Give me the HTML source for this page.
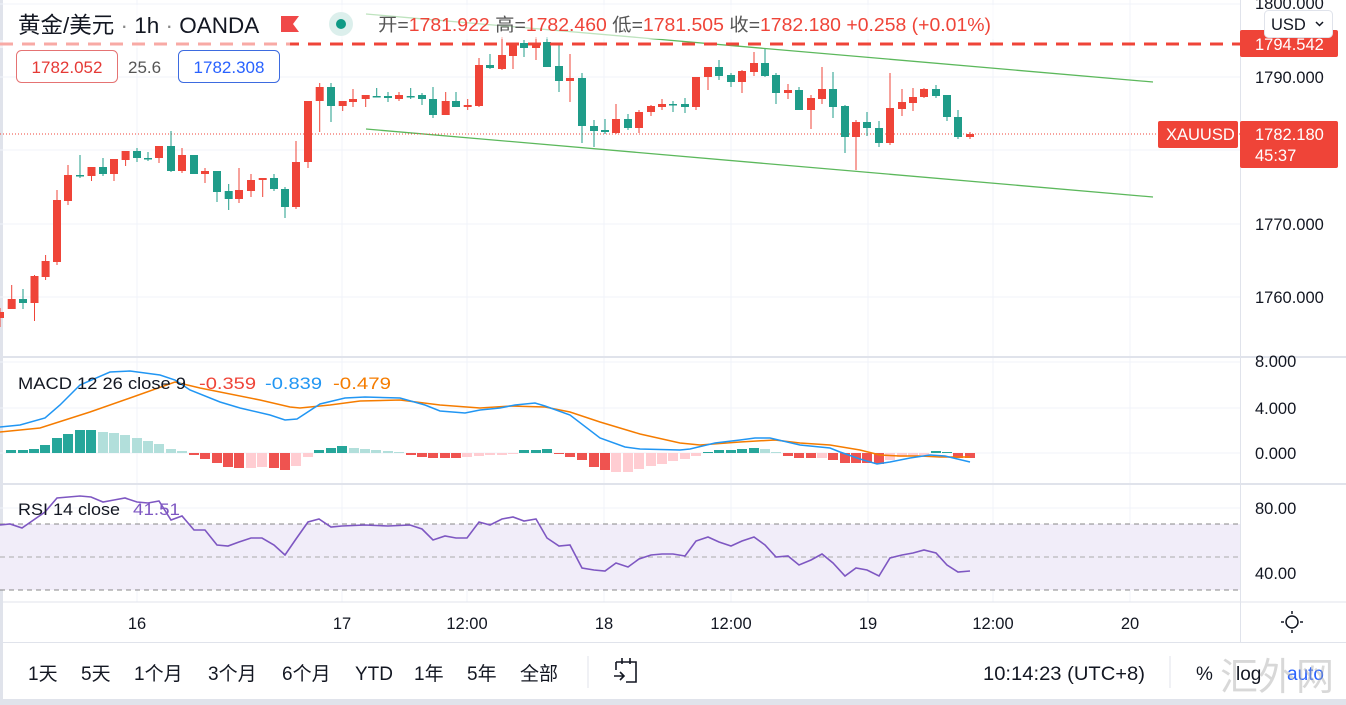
<!DOCTYPE html>
<html><head><meta charset="utf-8">
<style>
html,body{margin:0;padding:0;background:#fff;}
body{width:1346px;height:705px;overflow:hidden;position:relative;font-family:"Liberation Sans","Noto Sans CJK SC",sans-serif;}
svg{position:absolute;left:0;top:0;}
text{font-family:"Liberation Sans","Noto Sans CJK SC",sans-serif;}
</style></head>
<body>
<svg id="s" width="1346" height="705" viewBox="0 0 1346 705" xmlns="http://www.w3.org/2000/svg">
<rect x="0" y="0" width="1346" height="705" fill="#fff"/>
<rect x="0" y="0" width="3" height="705" fill="#e0e3eb"/>
<rect x="0" y="699" width="1346" height="6" fill="#e0e3eb"/>
<g stroke="#f0f3fa" stroke-width="1">
<line x1="137" y1="0" x2="137" y2="602"/><line x1="342" y1="0" x2="342" y2="602"/><line x1="467" y1="0" x2="467" y2="602"/><line x1="604" y1="0" x2="604" y2="602"/><line x1="731" y1="0" x2="731" y2="602"/><line x1="868" y1="0" x2="868" y2="602"/><line x1="993" y1="0" x2="993" y2="602"/><line x1="1130" y1="0" x2="1130" y2="602"/>
<line x1="0" y1="4" x2="1240" y2="4"/><line x1="0" y1="77" x2="1240" y2="77"/><line x1="0" y1="150" x2="1240" y2="150"/><line x1="0" y1="224" x2="1240" y2="224"/><line x1="0" y1="297" x2="1240" y2="297"/>
<line x1="0" y1="362" x2="1240" y2="362"/><line x1="0" y1="408" x2="1240" y2="408"/><line x1="0" y1="453" x2="1240" y2="453"/>
<line x1="0" y1="508" x2="1240" y2="508"/><line x1="0" y1="573" x2="1240" y2="573"/>
</g>
<rect x="0" y="524" width="1240" height="66" fill="#f1edf9"/>
<g stroke="#888" stroke-width="1" stroke-dasharray="5,4"><line x1="0" y1="524" x2="1240" y2="524"/><line x1="0" y1="590" x2="1240" y2="590"/></g>
<line x1="0" y1="557" x2="1240" y2="557" stroke="#aaa" stroke-width="1" stroke-dasharray="5,4"/>
<rect x="0" y="356" width="1346" height="2" fill="#e0e3eb"/>
<rect x="0" y="483" width="1346" height="2" fill="#e0e3eb"/>
<line x1="0" y1="602" x2="1346" y2="602" stroke="#e0e3eb"/>
<line x1="0" y1="642.5" x2="1346" y2="642.5" stroke="#e0e3eb"/>
<line x1="1240.5" y1="0" x2="1240.5" y2="642" stroke="#e0e3eb"/>
<line x1="366" y1="14" x2="1153" y2="82" stroke="#5cb85c" stroke-width="1.3"/>
<line x1="366" y1="129" x2="1153" y2="197" stroke="#5cb85c" stroke-width="1.3"/>
<line x1="0" y1="134" x2="1240" y2="134" stroke="#ef4438" stroke-width="1" stroke-dasharray="1,2"/>
<g id="cand"></g>
<line x1="0" y1="44" x2="1240" y2="44" stroke="#ef4438" stroke-width="3" stroke-dasharray="13,9"/>
<rect x="0" y="40" width="290" height="8" fill="#fff" opacity="0.55"/>
<g id="hist"></g>
<polyline fill="none" stroke="#f57c00" stroke-width="1.5" points="0,432 40,428 90,412 130,398 175,382 200,388 260,400 290,407 300,408 330,405 360,401 400,400 440,405 480,408 510,406 545,407 570,412 600,422 640,434 680,443 700,445 740,442 775,440 800,443 830,445 860,450 880,455 900,456 920,456 940,457 970,457"/>
<polyline fill="none" stroke="#2196f3" stroke-width="1.5" points="0,427 20,425 45,418 60,405 80,385 110,372 130,371 160,375 175,380 190,390 220,402 240,408 270,415 285,420 297,419 320,404 345,398 365,397 400,398 425,405 440,411 465,413 480,410 500,408 515,405 535,403 545,406 570,415 600,438 625,447 640,449 680,450 690,449 715,443 740,440 755,438 770,438 800,445 820,447 830,448 840,452 860,459 877,464 890,462 910,458 930,455 945,456 970,462"/>
<polyline fill="none" stroke="#7e57c2" stroke-width="1.6" points="0,525 10,524 22,528 45,512 57,498 80,496 91,497 103,502 114,500 125,498 137,502 148,503 159,501 171,520 182,516 194,530 205,530 217,545 228,546 239,542 251,538 262,538 274,545 285,555 296,539 308,522 319,519 331,527 342,526 365,525 388,526 410,525 422,529 433,540 445,536 456,538 467,538 479,522 490,525 502,519 513,517 524,521 536,519 547,538 559,546 570,545 582,568 594,570 605,571 616,563 628,567 639,559 651,555 662,554 673,554 685,556 696,541 708,537 719,542 731,546 742,541 754,537 765,545 776,557 788,556 799,565 811,560 822,554 833,563 845,576 856,568 867,570 879,576 890,558 902,555 913,553 924,550 936,553 947,565 958,572 970,571"/>
<rect x="4" y="5" width="1000" height="34" fill="#fff" opacity="0.6"/>
<text x="18" y="33" font-size="22.5" fill="#131722">黄金/美元 <tspan fill="#888">·</tspan> 1h <tspan fill="#888">·</tspan> OANDA</text>
<path d="M281 16 H299 L293 24 L299 32 H281 Z" fill="#f04848"/>
<circle cx="341" cy="24" r="12" fill="#dcefec"/><circle cx="341" cy="24" r="5" fill="#0f9a85"/>
<text x="378" y="31" font-size="18" fill="#555" textLength="613" lengthAdjust="spacingAndGlyphs">开=<tspan fill="#ef4438">1781.922</tspan> 高=<tspan fill="#ef4438">1782.460</tspan> 低=<tspan fill="#ef4438">1781.505</tspan> 收=<tspan fill="#ef4438">1782.180</tspan> <tspan fill="#ef4438">+0.258 (+0.01%)</tspan></text>
<rect x="16.5" y="50.5" width="101" height="32" rx="5" fill="#fff" stroke="#e57373"/>
<text x="67" y="73" font-size="17" fill="#e53935" text-anchor="middle">1782.052</text>
<text x="128" y="73" font-size="17" fill="#555">25.6</text>
<rect x="178.5" y="50.5" width="101" height="32" rx="5" fill="#fff" stroke="#3d6be0"/>
<text x="229" y="73" font-size="17" fill="#2962ff" text-anchor="middle">1782.308</text>
<g font-size="16.5" fill="#131722">
<text x="1255" y="9">1800.000</text>
<text x="1255" y="83">1790.000</text>
<text x="1255" y="230">1770.000</text>
<text x="1255" y="303">1760.000</text>
<text x="1255" y="367">8.000</text>
<text x="1255" y="414">4.000</text>
<text x="1255" y="459">0.000</text>
<text x="1255" y="514">80.00</text>
<text x="1255" y="579">40.00</text>
</g>
<rect x="1240" y="30" width="98" height="27" rx="2" fill="#ef4438"/>
<text x="1255" y="50" font-size="16.5" fill="#fff">1794.542</text>
<rect x="1264.5" y="10.5" width="68" height="27" rx="4" fill="#fff" stroke="#e0e3eb"/>
<text x="1271" y="30" font-size="16.5" fill="#131722">USD</text>
<path d="M1316 22 l3.5 3.5 l3.5 -3.5" fill="none" stroke="#131722" stroke-width="1.5"/>
<rect x="1158" y="121" width="80" height="27" rx="2" fill="#ef4438"/>
<text x="1166" y="140" font-size="16.5" fill="#fff">XAUUSD</text>
<rect x="1240" y="121" width="98" height="47" rx="2" fill="#ef4438"/>
<text x="1255" y="140" font-size="16.5" fill="#fff">1782.180</text>
<text x="1255" y="161" font-size="16.5" fill="#fff">45:37</text>
<g font-size="17">
<text x="18" y="389" fill="#131722" textLength="168" lengthAdjust="spacingAndGlyphs">MACD 12 26 close 9</text>
<text x="199" y="389" fill="#ef4438" textLength="57" lengthAdjust="spacingAndGlyphs">-0.359</text>
<text x="265" y="389" fill="#2196f3" textLength="57" lengthAdjust="spacingAndGlyphs">-0.839</text>
<text x="333" y="389" fill="#f57c00" textLength="58" lengthAdjust="spacingAndGlyphs">-0.479</text>
<text x="18" y="515" fill="#131722" textLength="102" lengthAdjust="spacingAndGlyphs">RSI 14 close</text>
<text x="133" y="515" fill="#7e57c2" textLength="47" lengthAdjust="spacingAndGlyphs">41.51</text>
</g>
<g font-size="16.5" fill="#131722" text-anchor="middle">
<text x="137" y="629">16</text><text x="342" y="629">17</text><text x="467" y="629">12:00</text><text x="604" y="629">18</text><text x="731" y="629">12:00</text><text x="868" y="629">19</text><text x="993" y="629">12:00</text><text x="1130" y="629">20</text>
</g>
<circle cx="1292" cy="622" r="6" fill="none" stroke="#131722" stroke-width="1.5"/>
<g stroke="#131722" stroke-width="1.5"><line x1="1292" y1="611" x2="1292" y2="614"/><line x1="1292" y1="630" x2="1292" y2="633"/><line x1="1281" y1="622" x2="1284" y2="622"/><line x1="1300" y1="622" x2="1303" y2="622"/></g>
<g font-size="19" fill="#131722">
<text x="28" y="680">1天</text><text x="81" y="680">5天</text><text x="134" y="680">1个月</text><text x="208" y="680">3个月</text><text x="282" y="680">6个月</text><text x="355" y="680">YTD</text><text x="414" y="680">1年</text><text x="467" y="680">5年</text><text x="520" y="680">全部</text>
<text x="983" y="680" textLength="162" lengthAdjust="spacingAndGlyphs">10:14:23 (UTC+8)</text>
<text x="1196" y="680">%</text><text x="1236" y="680">log</text><text x="1287" y="680" fill="#2962ff">auto</text>
</g>
<line x1="588" y1="656" x2="588" y2="688" stroke="#e0e3eb"/>
<line x1="1170" y1="656" x2="1170" y2="688" stroke="#e0e3eb"/>
<path d="M616 662 H636 V682 H626 M616 662 V670 M622 658 V664 M630 658 V664 M614 676 H624 M620 672 L624 676 L620 680" fill="none" stroke="#131722" stroke-width="1.6"/>
<text x="1220" y="690" font-size="38" fill="#aaa" opacity="0.45" font-family="'Noto Serif CJK SC',serif">汇外网</text>
</svg>
<script>
var C=[[0,312,318,308,327,'r'],[11.7,299,309,285,309,'r'],[23,299,303,289,309,'g'],[34.5,276,303,275,321,'r'],[45.6,261,277,255,280,'r'],[57,200,262,190,265,'r'],[68,175,201,165,205,'r'],[80,175,176,155,178,'g'],[91.5,167,176,167,181,'r'],[103,167,174,158,176,'g'],[114,159,174,159,181,'r'],[125.6,151,160,151,166,'r'],[137,151,158,148,162,'g'],[148,158,159,152,161,'g'],[159,146,158,146,163,'r'],[171,146,171,131,172,'g'],[182,155,171,148,173,'r'],[194,155,174,155,174,'g'],[205,171,174,168,183,'r'],[217,171,192,171,202,'g'],[228.7,191,199,184,210,'g'],[239,190,199,168,203,'r'],[251,180,191,174,197,'r'],[262.7,178,180,178,197,'r'],[274,178,189,174,191,'g'],[285,189,207,187,218,'g'],[296,162,207,141,209,'r'],[308,101,162,101,168,'r'],[319.7,87,101,83,132,'r'],[331,87,106,83,122,'g'],[342.7,101,106,101,111,'r'],[353,99,102,89,107,'r'],[365.7,95,99,95,107,'r'],[376.7,96,97,88,97,'g'],[388,96,98,92,102,'g'],[399,95,99,92,101,'r'],[410.7,96,97,88,99,'g'],[422,95,99,93,105,'g'],[433,99,115,87,118,'g'],[445.7,101,115,92,115,'r'],[456,101,107,92,107,'g'],[467.7,105,107,99,110,'r'],[479,65,106,58,107,'r'],[490,65,68,54,69,'g'],[502,55,69,37,70,'r'],[513,43,56,43,69,'r'],[524,43,48,40,57,'g'],[536,43,48,37,60,'r'],[547,42,67,37,67,'g'],[559,66,81,43,92,'g'],[570,78,81,54,102,'r'],[582,78,126,73,143,'g'],[594,126,131,120,147,'g'],[605,130,132,119,134,'g'],[616,119,133,104,134,'r'],[628,119,128,114,130,'g'],[639,112,128,110,133,'r'],[651,106,112,105,116,'r'],[662,104,107,99,110,'r'],[673,104,105,101,112,'g'],[685,104,107,98,113,'g'],[696,77,107,77,110,'r'],[708,67,77,67,90,'r'],[719,67,76,60,80,'g'],[731,75,82,73,87,'g'],[742,71,82,70,93,'r'],[754,63,72,52,76,'r'],[765,63,76,49,77,'g'],[776,75,93,73,104,'g'],[788,90,93,84,99,'r'],[799,90,110,87,110,'g'],[811,98,110,95,129,'r'],[822,89,99,67,104,'r'],[833,89,107,72,118,'g'],[845,106,137,105,153,'g'],[856,122,137,120,170,'r'],[867,122,128,112,136,'g'],[879,128,143,121,147,'g'],[890,108,143,73,145,'r'],[902,102,109,89,116,'r'],[913,97,103,88,111,'r'],[924,89,97,88,98,'r'],[936,89,96,85,98,'g'],[947,95,117,95,121,'g'],[958,117,137,110,139,'g'],[970,134,137,132,139,'r']];
var g=document.getElementById('cand'),h='';
C.forEach(function(c){var col=c[5]=='r'?'#ef4438':'#1f9c89';var x=c[0];
h+='<line x1="'+x+'" y1="'+c[3]+'" x2="'+x+'" y2="'+c[4]+'" stroke="'+col+'" stroke-width="1"/>';
h+='<rect x="'+(x-4)+'" y="'+c[1]+'" width="8" height="'+Math.max(1.5,c[2]-c[1])+'" fill="'+col+'"/>';});
g.innerHTML=h;
var H=[[11,450,'T'],[23,450,'T'],[34,449,'T'],[45,445,'T'],[57,438,'T'],[68,434,'T'],[80,430,'T'],[91,430,'T'],[103,432,'t'],[114,433,'t'],[125,435,'t'],[137,438,'t'],[148,441,'t'],[159,444,'t'],[171,449,'t'],[182,451,'t'],[194,455,'R'],[205,459,'R'],[217,463,'R'],[228,467,'R'],[239,468,'R'],[251,468,'p'],[262,467,'p'],[274,468,'R'],[285,470,'R'],[296,466,'p'],[308,457,'p'],[319,450,'T'],[331,448,'T'],[342,446,'T'],[354,448,'t'],[365,449,'t'],[376,450,'t'],[388,451,'t'],[399,452,'t'],[411,455,'R'],[422,457,'R'],[433,458,'R'],[445,458,'R'],[456,458,'R'],[467,457,'p'],[479,456,'p'],[490,455,'p'],[502,455,'p'],[513,454,'p'],[524,450,'T'],[536,450,'T'],[547,449,'T'],[559,454,'R'],[570,457,'R'],[582,460,'R'],[594,467,'R'],[605,470,'R'],[616,472,'p'],[628,472,'p'],[639,469,'p'],[651,466,'p'],[662,464,'p'],[673,461,'p'],[685,459,'p'],[696,456,'p'],[708,452,'T'],[719,450,'T'],[731,450,'T'],[742,449,'T'],[754,448,'T'],[765,449,'t'],[776,452,'t'],[788,456,'R'],[799,458,'R'],[811,458,'R'],[822,458,'p'],[833,460,'R'],[845,463,'R'],[856,463,'R'],[867,463,'R'],[879,464,'R'],[890,460,'p'],[902,457,'p'],[913,456,'p'],[924,455,'p'],[936,451,'T'],[947,452,'T'],[958,458,'R'],[970,458,'R']];
var cols={T:'#26a69a',t:'#b2dfdb',R:'#ef5350',p:'#ffcdd2'};h='';
H.forEach(function(b){var y0=Math.min(b[1],453),y1=Math.max(b[1],453);h+='<rect x="'+(b[0]-5)+'" y="'+y0+'" width="10" height="'+Math.max(1,y1-y0)+'" fill="'+cols[b[2]]+'"/>';});
document.getElementById('hist').innerHTML=h;
</script>
</body></html>
